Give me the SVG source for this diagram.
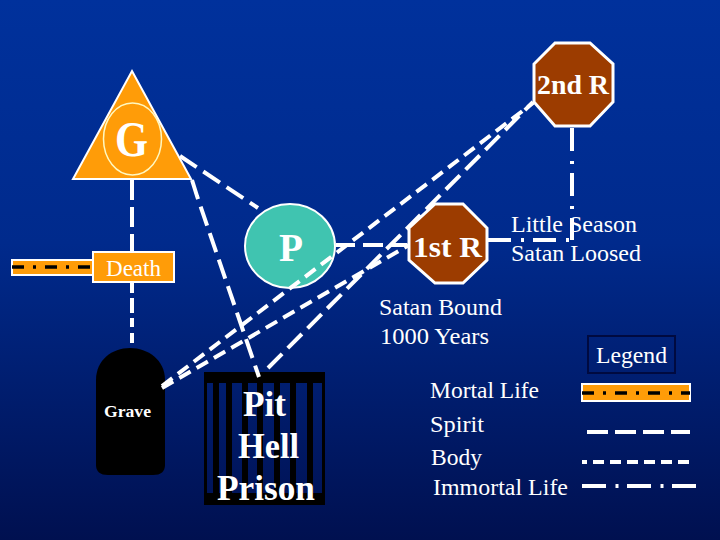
<svg xmlns="http://www.w3.org/2000/svg" width="720" height="540" viewBox="0 0 720 540">
<style>
text{font-family:"Liberation Serif","Times New Roman",serif;fill:#fff}
.b{font-weight:bold}
.l{fill:none;stroke:#fff;stroke-width:4}
.spirit{stroke-dasharray:20 8}
.body{stroke-dasharray:13 7}
.imm{stroke-dasharray:23 10 3 9}
.mort{fill:none;stroke:#000;stroke-width:3.5;stroke-dasharray:12 9 3 9}
.o{fill:#ff9c08;stroke:#fff;stroke-width:2}
.r{fill:#9c3c00;stroke:#fff;stroke-width:3}
</style>
<defs>
<linearGradient id="bg" x1="0" y1="0" x2="0" y2="1">
<stop offset="0" stop-color="#00319c"/><stop offset=".45" stop-color="#002a8c"/><stop offset="1" stop-color="#001050"/>
</linearGradient>
</defs>
<rect width="720" height="540" fill="url(#bg)"/>
<g id="mortal-stub"><rect class="o" x="12" y="260" width="82" height="15"/><path class="mort" d="M12 267H92"/></g>
<g id="G"><path class="o" d="M132 71L191 179H73Z"/><ellipse cx="132.500" cy="139" rx="29" ry="36" fill="#ff9c08" stroke="#fff8c0" stroke-width="1.500"/><text class="b" x="115" y="156" font-size="50" textLength="33" lengthAdjust="spacingAndGlyphs">G</text></g>
<g id="Death"><rect class="o" x="93" y="252" width="81" height="30"/><text x="106" y="276" font-size="23" textLength="55" lengthAdjust="spacingAndGlyphs">Death</text></g>
<g id="P"><ellipse cx="290" cy="246" rx="45" ry="42" fill="#40c4b0" stroke="#fff" stroke-width="2"/><text class="b" x="279" y="261" font-size="40" textLength="24" lengthAdjust="spacingAndGlyphs">P</text></g>
<g id="R1"><path class="r" d="M435 204H463L487 228V260L463 283H435L409 260V228Z"/><text class="b" x="413" y="257" font-size="29" textLength="69" lengthAdjust="spacingAndGlyphs">1st R</text></g>
<g id="R2"><path class="r" d="M555 43H590L613 64V102L590 126H555L534 102V64Z"/><text class="b" x="537" y="94" font-size="28" textLength="72" lengthAdjust="spacingAndGlyphs">2nd R</text></g>
<g id="Grave"><path d="M96 380C96 360 112 348 130 348C148 348 165 360 165 380V465Q165 475 153 475H108Q96 475 96 465Z" fill="#000"/><text class="b" x="104" y="417" font-size="17" textLength="47" lengthAdjust="spacingAndGlyphs">Grave</text></g>
<g id="Pit">
<path fill="#000" fill-rule="evenodd" d="M204 372H325V505H204ZM207 383V493H213V383ZM219 383V493H226V383ZM232 383V493H242V383ZM248 383V493H257V383ZM263 383V493H274V383ZM280 383V493H290V383ZM296 383V493H307V383ZM313 383V493H322V383Z"/>
<text class="b" font-size="35" x="243" y="416" textLength="43" lengthAdjust="spacingAndGlyphs">Pit</text>
<text class="b" font-size="35" x="238" y="458" textLength="61" lengthAdjust="spacingAndGlyphs">Hell</text>
<text class="b" font-size="35" x="217" y="500" textLength="98" lengthAdjust="spacingAndGlyphs">Prison</text>
</g>
<g id="connectors">
<path class="l spirit" d="M132 180V252" style="stroke-dasharray:20 7"/>
<path class="l" d="M132 283V343" style="stroke-dasharray:10 5 15 5 9 6 10"/>
<path class="l spirit" d="M180 156L258 208"/>
<path class="l spirit" d="M192 180L197 196L259 377"/>
<path class="l body" d="M162 388L409 245"/>
<path class="l body" d="M162 386L533 103"/>
<path class="l spirit" d="M268 368L533 102"/>
<path class="l" d="M336 245H407" style="stroke-dasharray:19 8 20 7 20"/>
<path class="l imm" d="M488 240H572"/>
<path class="l imm" d="M572 128V240"/>
</g>
<g id="labels" font-size="23">
<text x="511" y="232" textLength="126" lengthAdjust="spacingAndGlyphs">Little Season</text>
<text x="511" y="261" textLength="130" lengthAdjust="spacingAndGlyphs">Satan Loosed</text>
<text x="379" y="315" textLength="123" lengthAdjust="spacingAndGlyphs">Satan Bound</text>
<text x="380" y="344" textLength="109" lengthAdjust="spacingAndGlyphs">1000 Years</text>
<text x="430" y="398" textLength="109" lengthAdjust="spacingAndGlyphs">Mortal Life</text>
<text x="430" y="432" textLength="54" lengthAdjust="spacingAndGlyphs">Spirit</text>
<text x="431" y="465" textLength="51" lengthAdjust="spacingAndGlyphs">Body</text>
<text x="433" y="495" textLength="135" lengthAdjust="spacingAndGlyphs">Immortal Life</text>
</g>
<g id="Legend">
<rect x="588" y="336" width="87" height="37" fill="none" stroke="#000a40" stroke-width="2"/>
<text x="596" y="363" font-size="23" textLength="71" lengthAdjust="spacingAndGlyphs">Legend</text>
<rect class="o" x="582" y="384" width="108" height="17"/><path class="mort" d="M582 393H690"/>
<path class="l" style="stroke-dasharray:21 7" d="M587 432H690"/>
<path class="l" style="stroke-dasharray:11 6;stroke-dashoffset:6" d="M582 462H690"/>
<path class="l" style="stroke-dasharray:24 9.500 3 8.500" d="M582 486H696"/>
</g>
</svg>
